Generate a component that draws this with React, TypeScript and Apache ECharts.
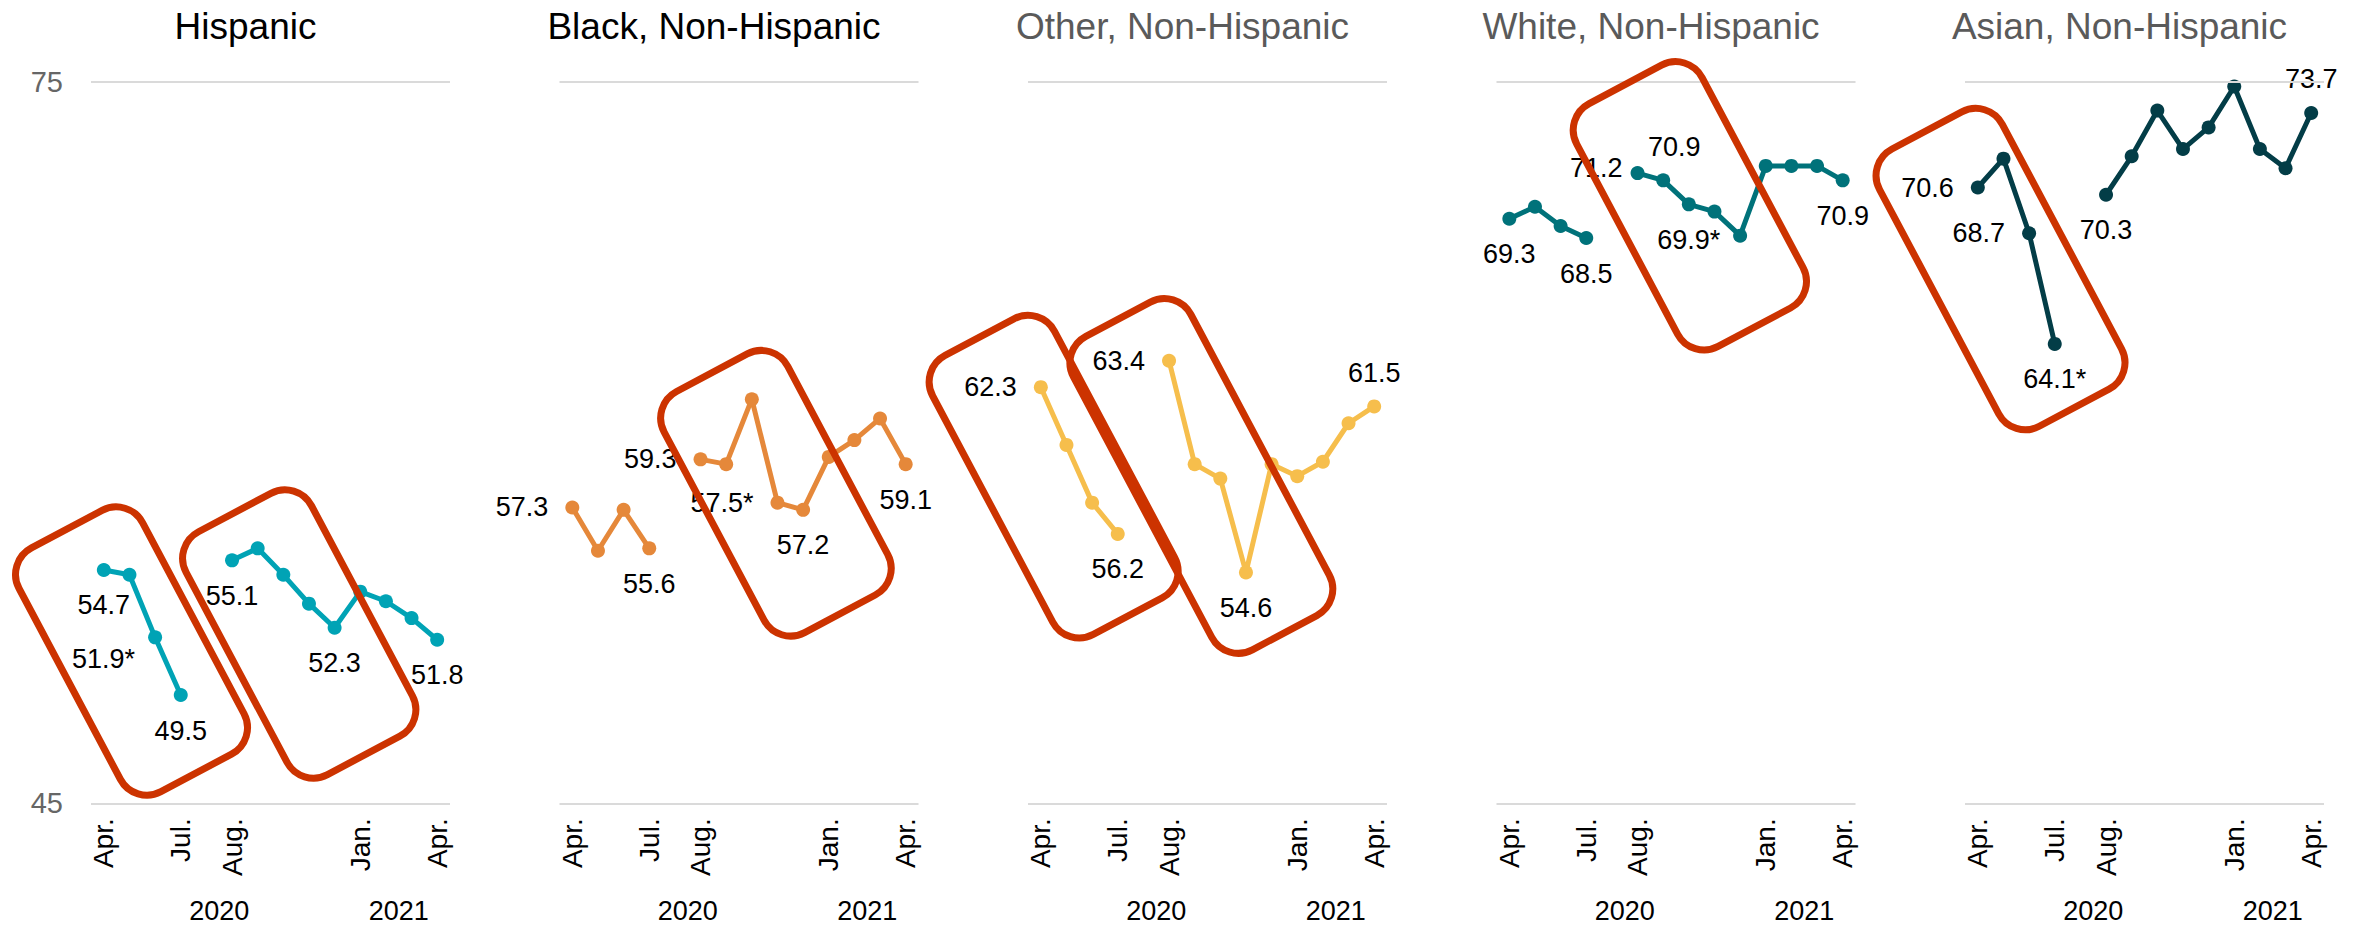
import React, { useEffect, useRef } from "react";
import * as echarts from "echarts";

// Monthly categories; "gap" separates the two survey phases.
const months = [
  "2020-04", "2020-05", "2020-06", "2020-07", "gap",
  "2020-08", "2020-09", "2020-10", "2020-11", "2020-12",
  "2021-01", "2021-02", "2021-03", "2021-04",
];
const monthTickLabels: Record<string, string> = {
  "2020-04": "Apr.",
  "2020-07": "Jul.",
  "2020-08": "Aug.",
  "2021-01": "Jan.",
  "2021-04": "Apr.",
};
const years = [
  { text: "2020", from: 0, to: 9 },
  { text: "2021", from: 10, to: 13 },
];
const yTicks = [45, 75];

const groups = [
  "Hispanic",
  "Black, Non-Hispanic",
  "Other, Non-Hispanic",
  "White, Non-Hispanic",
  "Asian, Non-Hispanic",
];

const hispanic = [54.7, 54.5, 51.9, 49.5, null, 55.1, 55.6, 54.5, 53.3, 52.3, 53.8, 53.4, 52.7, 51.8];
const black = [57.3, 55.5, 57.2, 55.6, null, 59.3, 59.1, 61.8, 57.5, 57.2, 59.4, 60.1, 61.0, 59.1];
const other = [62.3, 59.9, 57.5, 56.2, null, 63.4, 59.1, 58.5, 54.6, 59.1, 58.6, 59.2, 60.8, 61.5];
const white = [69.3, 69.8, 69.0, 68.5, null, 71.2, 70.9, 69.9, 69.6, 68.6, 71.5, 71.5, 71.5, 70.9];
const asian = [70.6, 71.8, 68.7, 64.1, null, 70.3, 71.9, 73.8, 72.2, 73.1, 74.8, 72.2, 71.4, 73.7];

// Points whose change is flagged with an asterisk.
const hispanicFlagged = [2];
const blackFlagged = [8];
const otherFlagged: number[] = [];
const whiteFlagged = [7];
const asianFlagged = [3];

// ---- presentation ----
const FONT = "'Liberation Sans', Arial, Helvetica, sans-serif";
const colors = ["#00A3B5", "#E5883A", "#F6BE4C", "#00727A", "#033D47"];
const titleColors = ["#000000", "#000000", "#5a5a5a", "#5a5a5a", "#5a5a5a"];
const RED = "#CC3300";

type LabelSpec = { pos: "top" | "bottom" | "left"; offset?: [number, number] };
const labelPlacement: Record<number, LabelSpec>[] = [
  { 0: { pos: "bottom" }, 2: { pos: "left", offset: [4, 22] }, 3: { pos: "bottom" }, 5: { pos: "bottom" }, 9: { pos: "bottom" }, 13: { pos: "bottom" } },
  { 0: { pos: "left" }, 3: { pos: "bottom" }, 5: { pos: "left" }, 8: { pos: "left" }, 9: { pos: "bottom" }, 13: { pos: "bottom" } },
  { 0: { pos: "left" }, 3: { pos: "bottom" }, 5: { pos: "left" }, 8: { pos: "bottom" }, 13: { pos: "top" } },
  { 0: { pos: "bottom" }, 3: { pos: "bottom" }, 5: { pos: "left", offset: [9, -5] }, 6: { pos: "top", offset: [11, 0] }, 7: { pos: "bottom" }, 13: { pos: "bottom" } },
  { 0: { pos: "left" }, 2: { pos: "left" }, 3: { pos: "bottom" }, 5: { pos: "bottom" }, 13: { pos: "top" } },
];

// Highlight boxes, centred on (category position, value), sized in pixels.
type Box = { k: number; v: number; w: number; h: number };
const highlightBoxes: Box[][] = [
  [{ k: 1.08, v: 51.33, w: 140, h: 276 }, { k: 7.62, v: 52.04, w: 142, h: 275 }],
  [{ k: 7.94, v: 57.89, w: 140, h: 273 }],
  [{ k: 0.5, v: 58.58, w: 138, h: 316 }, { k: 6.26, v: 58.61, w: 133, h: 355 }],
  [{ k: 7.04, v: 69.84, w: 142, h: 275 }],
  [{ k: 0.885, v: 67.21, w: 139, h: 314 }],
];
const BOX_ROTATION = (28 * Math.PI) / 180;

const seriesValues = [hispanic, black, other, white, asian];
const flagged = [hispanicFlagged, blackFlagged, otherFlagged, whiteFlagged, asianFlagged];

const WIDTH = 2354;
const HEIGHT = 928;
const GRID_LEFT0 = 91;
const GRID_PITCH = 468.5;
const GRID_W = 359;
const GRID_TOP = 81.7;
const GRID_BOTTOM = 803.3;

const panelLeft = (i: number) => GRID_LEFT0 + GRID_PITCH * i;

function buildOption(): echarts.EChartsOption {
  const grid = groups.map((_, i) => ({
    left: panelLeft(i),
    top: GRID_TOP,
    width: GRID_W,
    height: GRID_BOTTOM - GRID_TOP,
  }));

  const shownTicks = months
    .map((m, idx) => (monthTickLabels[m] ? idx : -1))
    .filter((idx) => idx >= 0);

  const xAxis = groups.map((_, i) => ({
    type: "category" as const,
    gridIndex: i,
    data: months,
    boundaryGap: true,
    axisLine: { show: false },
    axisTick: { show: false },
    axisLabel: {
      interval: (idx: number) => shownTicks.includes(idx),
      formatter: (val: string) => monthTickLabels[val] ?? "",
      rotate: 90,
      margin: 15,
      fontSize: 28,
      color: "#000",
      fontFamily: FONT,
    },
  }));

  const yAxis = groups.map((_, i) => ({
    type: "value" as const,
    gridIndex: i,
    min: 45,
    max: 75,
    interval: 15,
    splitLine: { show: false },
    axisLine: { show: false },
    axisTick: { show: false },
    axisLabel: {
      show: i === 0,
      formatter: (v: number) => (yTicks.includes(v) ? String(v) : ""),
      fontSize: 29,
      color: "#666",
      margin: 28,
      fontFamily: FONT,
    },
  }));

  const series: any[] = [];
  groups.forEach((_, i) => {
    const values = seriesValues[i];
    // reference lines at the ends of the scale
    series.push({
      type: "line",
      xAxisIndex: i,
      yAxisIndex: i,
      data: values,
      showSymbol: false,
      silent: true,
      lineStyle: { opacity: 0 },
      z: 1,
      markLine: {
        silent: true,
        symbol: "none",
        animation: false,
        label: { show: false },
        lineStyle: { color: "#dadada", width: 2, type: "solid" },
        data: yTicks.map((t) => ({ yAxis: t })),
      },
    });
    series.push({
      type: "line",
      name: groups[i],
      xAxisIndex: i,
      yAxisIndex: i,
      connectNulls: false,
      symbol: "circle",
      symbolSize: 14,
      showAllSymbol: true,
      lineStyle: { width: 5, color: colors[i] },
      itemStyle: { color: colors[i] },
      z: 3,
      data: values.map((v, idx) => {
        if (v === null) return null;
        const spec = labelPlacement[i][idx];
        if (!spec) return { value: v };
        const text = v.toFixed(1) + (flagged[i].includes(idx) ? "*" : "");
        const distance = spec.pos === "left" ? 17 : spec.pos === "top" ? 13 : 15;
        return {
          value: v,
          label: {
            show: true,
            position: spec.pos,
            distance,
            offset: spec.offset ?? [0, 0],
            formatter: text,
            fontSize: 27,
            color: "#000",
            fontFamily: FONT,
          },
        };
      }),
    });
  });

  return {
    animation: false,
    backgroundColor: "#ffffff",
    grid,
    xAxis,
    yAxis,
    series,
  };
}

export default function App() {
  const ref = useRef<HTMLDivElement>(null);

  useEffect(() => {
    document.body.style.margin = "0";
    if (!ref.current) return;
    const chart = echarts.init(ref.current, null, { renderer: "svg" });
    chart.setOption(buildOption());

    const graphics: any[] = [];
    groups.forEach((name, i) => {
      const at = (k: number, v: number) => {
        const a = chart.convertToPixel({ gridIndex: i }, [0, v]) as number[];
        const b = chart.convertToPixel({ gridIndex: i }, [1, v]) as number[];
        return [a[0] + (b[0] - a[0]) * k, a[1]];
      };

      graphics.push({
        type: "text",
        x: panelLeft(i) + GRID_W / 2 - 25,
        y: 26.5,
        silent: true,
        style: {
          text: name,
          fontSize: 37,
          fontFamily: FONT,
          fill: titleColors[i],
          align: "center",
          verticalAlign: "middle",
          textAlign: "center",
          textVerticalAlign: "middle",
        },
      });

      years.forEach((yr) => {
        const p = at((yr.from + yr.to) / 2, 45);
        graphics.push({
          type: "text",
          x: p[0],
          y: 911,
          silent: true,
          style: {
            text: yr.text,
            fontSize: 27,
            fontFamily: FONT,
            fill: "#000",
            align: "center",
            verticalAlign: "middle",
            textAlign: "center",
            textVerticalAlign: "middle",
          },
        });
      });

      highlightBoxes[i].forEach((bx) => {
        const c = at(bx.k, bx.v);
        graphics.push({
          type: "rect",
          x: c[0],
          y: c[1],
          rotation: BOX_ROTATION,
          silent: true,
          z: 20,
          shape: { x: -bx.w / 2, y: -bx.h / 2, width: bx.w, height: bx.h, r: 30 },
          style: { fill: "none", stroke: RED, lineWidth: 7 },
        });
      });
    });
    chart.setOption({ graphic: graphics });

    return () => {
      chart.dispose();
    };
  }, []);

  return <div ref={ref} style={{ width: WIDTH, height: HEIGHT }} />;
}
